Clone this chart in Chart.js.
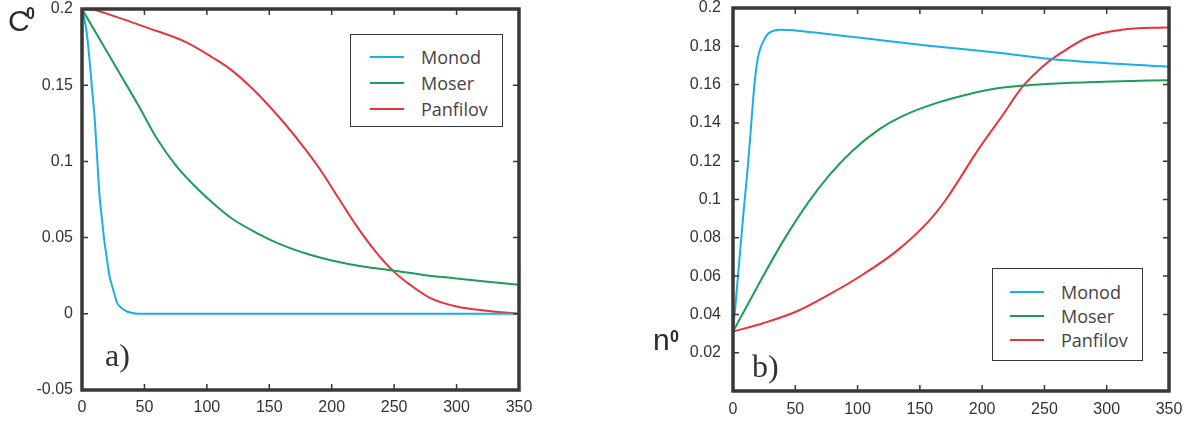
<!DOCTYPE html>
<html>
<head>
<meta charset="utf-8">
<script src="https://cdn.jsdelivr.net/npm/chart.js@4.4.1/dist/chart.umd.min.js"></script>
<style>
  body { margin: 0; background: #fff; width: 1189px; height: 421px; position: relative; overflow: hidden; }
  .panel { position: absolute; top: 0; height: 421px; }
  #p1 { left: 0; width: 540px; }
  #p2 { left: 600px; width: 589px; }
  .ax { position: absolute; font-family: "Liberation Sans", Arial, sans-serif; font-size: 30px; line-height: 30px; color: #2b2b2b; }
  .ax .sup { position: absolute; font-size: 16px; line-height: 16px; font-weight: bold; }
  .tag { position: absolute; font-family: "Liberation Serif", "Times New Roman", serif; font-size: 32px; line-height: 32px; color: #333; }
  .legend { position: absolute; border: 1.5px solid #3a3a3a; box-sizing: border-box; background: #fff; }
  .legend .row { position: absolute; height: 24px; display: flex; align-items: center; font-family: "Open Sans", "Noto Sans", sans-serif; font-size: 18px; color: #444; }
  .legend .swatch { display: inline-block; width: 34px; height: 2px; margin-right: 17px; }
</style>
</head>
<body>
<div class="panel" id="p1"><canvas id="c1"></canvas></div>
<div class="panel" id="p2"><canvas id="c2"></canvas></div>

<div class="ax" style="left:8px;top:6px">C<span class="sup" style="left:18px;top:0px">0</span></div>
<div class="ax" style="left:653px;top:325px">n<span class="sup" style="left:17px;top:4px">0</span></div>
<div class="tag" style="left:105px;top:339px">a)</div>
<div class="tag" style="left:752px;top:350px">b)</div>

<div class="legend" id="leg1" style="left:350px;top:34px;width:153px;height:93px"></div>
<div class="legend" id="leg2" style="left:992px;top:268px;width:151px;height:93px"></div>

<script>
// series names and colours
const seriesNames = ["Monod", "Moser", "Panfilov"];
const seriesColors = ["#1cafe6", "#1d9e58", "#e5353b"];

// tick values
const xTicks = [0, 50, 100, 150, 200, 250, 300, 350];
const cTicks = [-0.05, 0, 0.05, 0.1, 0.15, 0.2];
const nTicks = [0.02, 0.04, 0.06, 0.08, 0.1, 0.12, 0.14, 0.16, 0.18, 0.2];

// panel a) C0
const cMonodX = [0, 2, 4, 6, 8, 10, 12, 14, 16, 18, 20, 22, 24, 26, 28, 30, 33, 36, 40, 45, 100, 200, 350];
const cMonodY = [0.2, 0.193, 0.183, 0.167, 0.148, 0.13, 0.104, 0.078, 0.062, 0.047, 0.036, 0.025, 0.0185, 0.0128, 0.0075, 0.005, 0.003, 0.0015, 0.0006, 0, 0, 0, 0];
const cMoserX = [0, 15, 30, 45, 60, 75, 90, 105, 120, 140, 160, 180, 200, 225, 250, 275, 300, 325, 350];
const cMoserY = [0.2, 0.179, 0.158, 0.137, 0.115, 0.0975, 0.084, 0.0725, 0.0625, 0.053, 0.0452, 0.0394, 0.035, 0.031, 0.0283, 0.0253, 0.0232, 0.021, 0.019];
const cPanfX = [0, 9, 25, 52, 84, 105, 119, 137, 160, 175, 190, 205, 220, 235, 250, 262, 279, 300, 324, 350];
const cPanfY = [0.2, 0.1995, 0.1955, 0.1878, 0.178, 0.168, 0.1604, 0.1473, 0.127, 0.112, 0.0955, 0.0765, 0.0575, 0.041, 0.0275, 0.0195, 0.0103, 0.0048, 0.002, 0];

// panel b) n0
const nMonodX = [0, 2, 4, 6, 8, 10, 12, 14, 16, 18, 20, 22, 25, 28, 32, 38, 45, 64, 104, 157, 211, 264, 350];
const nMonodY = [0.031, 0.045, 0.06, 0.075, 0.09, 0.104, 0.118, 0.134, 0.151, 0.165, 0.174, 0.179, 0.1835, 0.1864, 0.188, 0.1887, 0.1885, 0.1873, 0.1843, 0.1803, 0.1768, 0.1728, 0.1693];
const nMoserX = [0, 19, 40, 61, 77, 96, 117, 136, 163, 189, 211, 237, 264, 304, 350];
const nMoserY = [0.031, 0.0538, 0.078, 0.099, 0.1125, 0.1255, 0.1365, 0.1435, 0.1503, 0.155, 0.158, 0.1597, 0.1607, 0.1616, 0.1623];
const nPanfX = [0, 24, 51, 77, 104, 131, 157, 171, 197, 216, 232, 251, 264, 285, 312, 350];
const nPanfY = [0.031, 0.0354, 0.0415, 0.0503, 0.0607, 0.0729, 0.0886, 0.1, 0.1262, 0.1436, 0.1585, 0.1707, 0.1768, 0.1847, 0.1886, 0.1899];

const pts = (xs, ys) => xs.map((x, i) => ({ x, y: ys[i] }));

// inward tick marks on all four sides plus the heavy frame
const frame = {
  id: "frame",
  afterDatasetsDraw(chart) {
    const { ctx, chartArea: a, scales: { x, y } } = chart;
    ctx.save();
    ctx.strokeStyle = "#383838";
    ctx.lineWidth = 1.5;
    ctx.beginPath();
    x.ticks.forEach(t => {
      const px = x.getPixelForValue(t.value);
      ctx.moveTo(px, a.bottom); ctx.lineTo(px, a.bottom - 6);
      ctx.moveTo(px, a.top); ctx.lineTo(px, a.top + 6);
    });
    y.ticks.forEach(t => {
      const py = y.getPixelForValue(t.value);
      ctx.moveTo(a.left, py); ctx.lineTo(a.left + 6, py);
      ctx.moveTo(a.right, py); ctx.lineTo(a.right - 6, py);
    });
    ctx.stroke();
    ctx.lineWidth = 3.5;
    ctx.strokeRect(a.left, a.top, a.right - a.left, a.bottom - a.top);
    ctx.restore();
  }
};

const tickFont = { family: "'Liberation Sans', Arial, sans-serif", size: 16 };

function makeChart(canvas, series, yTicks, yMin, yMax, opts) {
  return new Chart(canvas, {
    type: "line",
    data: {
      datasets: series.map((s, i) => ({
        label: seriesNames[i],
        data: s,
        borderColor: seriesColors[i],
        backgroundColor: seriesColors[i],
        borderWidth: 2,
        pointRadius: 0,
        fill: false,
        cubicInterpolationMode: "monotone"
      }))
    },
    options: {
      responsive: true,
      maintainAspectRatio: false,
      animation: false,
      layout: { padding: { top: opts.top, right: opts.right, bottom: 0, left: 0 } },
      plugins: { legend: { display: false }, tooltip: { enabled: false } },
      scales: {
        x: {
          type: "linear",
          min: 0,
          max: 350,
          afterBuildTicks: s => { s.ticks = xTicks.map(v => ({ value: v })); },
          afterFit: s => { s.height = opts.xHeight; s.paddingLeft = 0; s.paddingRight = 0; },
          grid: { display: false, drawTicks: false },
          border: { display: false },
          ticks: { font: tickFont, color: "#333", padding: opts.xPad, maxRotation: 0, autoSkip: false, callback: v => String(v) }
        },
        y: {
          min: yMin,
          max: yMax,
          afterBuildTicks: s => { s.ticks = yTicks.map(v => ({ value: v })); },
          afterFit: s => { s.width = opts.yWidth; s.paddingTop = 0; s.paddingBottom = 0; },
          grid: { display: false, drawTicks: false },
          border: { display: false },
          ticks: { font: tickFont, color: "#333", padding: opts.yPad, autoSkip: false, callback: v => String(v) }
        }
      }
    },
    plugins: [frame]
  });
}

makeChart(document.getElementById("c1"),
  [pts(cMonodX, cMonodY), pts(cMoserX, cMoserY), pts(cPanfX, cPanfY)],
  cTicks, -0.05, 0.2,
  { top: 9, right: 21, xHeight: 31, yWidth: 82, xPad: 8, yPad: 9 });

makeChart(document.getElementById("c2"),
  [pts(nMonodX, nMonodY), pts(nMoserX, nMoserY), pts(nPanfX, nPanfY)],
  nTicks, 0, 0.2,
  { top: 8, right: 20, xHeight: 30, yWidth: 133, xPad: 9, yPad: 12 });

// framed legends inside the plots
function buildLegend(id, rowTops, lineLeft) {
  const box = document.getElementById(id);
  seriesNames.forEach((name, i) => {
    const row = document.createElement("div");
    row.className = "row";
    row.style.top = rowTops[i] + "px";
    row.style.left = lineLeft + "px";
    const sw = document.createElement("span");
    sw.className = "swatch";
    sw.style.background = seriesColors[i];
    row.appendChild(sw);
    row.appendChild(document.createTextNode(name));
    box.appendChild(row);
  });
}
buildLegend("leg1", [10, 36, 62], 19);
buildLegend("leg2", [11, 35, 59], 17);
</script>
</body>
</html>
